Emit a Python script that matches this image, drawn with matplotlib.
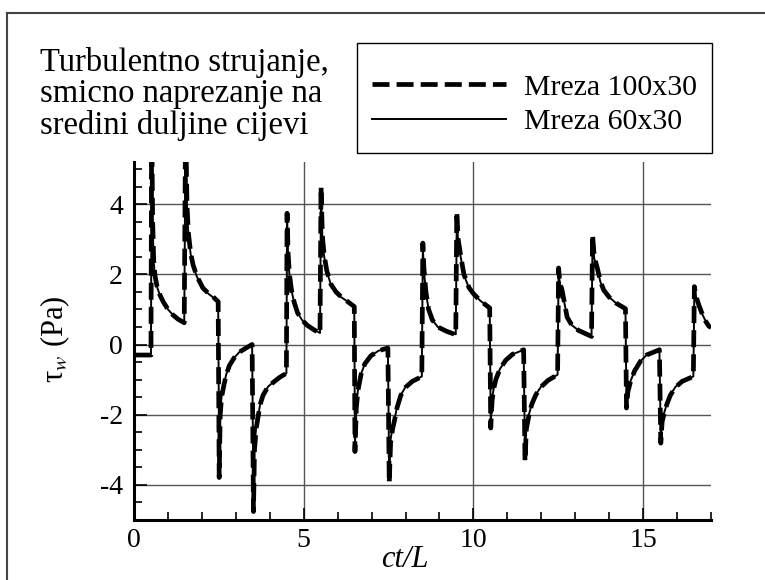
import matplotlib
matplotlib.use('Agg')
import matplotlib.pyplot as plt
import matplotlib.lines
import matplotlib.patches
from matplotlib.ticker import MultipleLocator

plt.rcParams['font.family'] = ['Liberation Serif', 'DejaVu Serif']
plt.rcParams['mathtext.fontset'] = 'stix'
plt.rcParams['axes.unicode_minus'] = False

# ct/L values, shared by both meshes
t_vals = [0.0, 0.5,
          0.52, 0.55, 0.58, 0.62, 0.68, 0.76, 0.86, 1.0, 1.15, 1.3, 1.48,
          1.52, 1.56, 1.6, 1.67, 1.74, 1.85, 2.03, 2.2, 2.35, 2.48,
          2.51, 2.54, 2.58, 2.65, 2.72, 2.81, 2.95, 3.1, 3.3, 3.48,
          3.52, 3.55, 3.6, 3.65, 3.72, 3.8, 3.95, 4.14, 4.3, 4.49,
          4.51, 4.54, 4.58, 4.64, 4.72, 4.82, 4.95, 5.1, 5.3, 5.48,
          5.51, 5.55, 5.6, 5.68, 5.8, 5.95, 6.1, 6.3, 6.49,
          6.51, 6.55, 6.6, 6.69, 6.8, 6.98, 7.2, 7.48,
          7.52, 7.56, 7.62, 7.67, 7.75, 7.86, 8.0, 8.2, 8.48,
          8.51, 8.54, 8.6, 8.68, 8.79, 8.95, 9.2, 9.48,
          9.51, 9.55, 9.63, 9.72, 9.87, 10.0, 10.2, 10.48,
          10.51, 10.55, 10.6, 10.66, 10.78, 10.95, 11.15, 11.48,
          11.52, 11.56, 11.64, 11.72, 11.84, 12.0, 12.2, 12.48,
          12.51, 12.55, 12.6, 12.66, 12.76, 12.9, 13.1, 13.48,
          13.51, 13.56, 13.65, 13.74, 13.84, 14.0, 14.2, 14.48,
          14.51, 14.55, 14.63, 14.75, 14.92, 15.1, 15.48,
          15.52, 15.56, 15.61, 15.7, 15.8, 15.95, 16.15, 16.48,
          16.51, 16.55, 16.64, 16.75, 16.85, 16.93, 17.0]

# wall shear stress, mreza 100x30 (dashed)
tau_100 = [-0.3, -0.3,
           6.5, 3.5, 2.4, 1.95, 1.65, 1.42, 1.22, 1.0, 0.84, 0.72, 0.62,
           6.5, 4.0, 3.2, 2.6, 2.27, 1.95, 1.61, 1.45, 1.34, 1.22,
           -3.79, -2.0, -1.5, -1.15, -0.85, -0.6, -0.38, -0.22, -0.1, 0.0,
           -4.76, -3.0, -2.4, -2.09, -1.7, -1.45, -1.2, -1.05, -0.93, -0.82,
           3.74, 2.6, 2.0, 1.55, 1.2, 0.9, 0.7, 0.55, 0.42, 0.32,
           4.5, 3.1, 2.56, 2.1, 1.72, 1.5, 1.36, 1.22, 1.08,
           -3.05, -1.8, -1.3, -0.85, -0.55, -0.32, -0.18, -0.1,
           -3.95, -2.8, -2.4, -2.19, -1.8, -1.45, -1.22, -1.05, -0.91,
           2.89, 2.2, 1.5, 1.0, 0.7, 0.5, 0.38, 0.28,
           3.79, 3.0, 2.5, 2.0, 1.62, 1.45, 1.25, 1.04,
           -2.38, -1.6, -1.25, -1.0, -0.7, -0.45, -0.28, -0.15,
           -3.33, -2.4, -2.0, -1.7, -1.43, -1.2, -1.02, -0.86,
           2.18, 1.7, 1.6, 1.3, 0.78, 0.55, 0.4, 0.23,
           3.13, 2.5, 2.18, 1.8, 1.55, 1.35, 1.18, 1.02,
           -1.81, -1.35, -1.05, -0.75, -0.48, -0.3, -0.15,
           -2.81, -2.2, -2.0, -1.7, -1.45, -1.22, -1.05, -0.91,
           1.65, 1.4, 1.13, 0.85, 0.65, 0.53, 0.48]

# wall shear stress, mreza 60x30 (solid)
tau_60 = [-0.3, -0.3,
          6.3, 3.4, 2.35, 1.93, 1.64, 1.41, 1.22, 1.0, 0.84, 0.72, 0.63,
          6.3, 3.9, 3.15, 2.57, 2.25, 1.94, 1.6, 1.44, 1.33, 1.22,
          -3.6, -1.95, -1.48, -1.14, -0.84, -0.6, -0.38, -0.22, -0.1, 0.0,
          -4.5, -2.9, -2.35, -2.07, -1.69, -1.44, -1.2, -1.04, -0.93, -0.82,
          3.6, 2.55, 1.97, 1.54, 1.19, 0.9, 0.7, 0.55, 0.42, 0.33,
          4.3, 3.0, 2.52, 2.08, 1.71, 1.5, 1.35, 1.22, 1.08,
          -2.9, -1.75, -1.28, -0.84, -0.55, -0.32, -0.18, -0.1,
          -3.8, -2.7, -2.35, -2.17, -1.78, -1.44, -1.21, -1.05, -0.91,
          2.75, 2.15, 1.48, 1.0, 0.7, 0.5, 0.38, 0.29,
          3.65, 2.9, 2.47, 1.98, 1.61, 1.44, 1.25, 1.04,
          -2.3, -1.57, -1.23, -0.99, -0.7, -0.45, -0.28, -0.15,
          -3.2, -2.35, -1.98, -1.69, -1.42, -1.19, -1.02, -0.86,
          2.1, 1.68, 1.58, 1.29, 0.78, 0.55, 0.4, 0.24,
          3.0, 2.45, 2.15, 1.79, 1.54, 1.35, 1.18, 1.02,
          -1.75, -1.33, -1.04, -0.75, -0.48, -0.3, -0.15,
          -2.7, -2.15, -1.98, -1.69, -1.44, -1.21, -1.05, -0.91,
          1.6, 1.38, 1.12, 0.85, 0.65, 0.53, 0.48]

legend_labels = ['Mreza 100x30', 'Mreza 60x30']
title_text = 'Turbulentno strujanje,\nsmicno naprezanje na\nsredini duljine cijevi'

fig = plt.figure(figsize=(7.65, 5.8), dpi=100)
ax = fig.add_axes([134 / 765, 1 - 520 / 580, 577 / 765, 358 / 580])

# grid first so curves lie over it
ax.grid(True, which='major', color='#555555', linewidth=1.0)
ax.set_axisbelow(True)

l1, = ax.plot(t_vals, tau_100, color='black', linewidth=3.4, linestyle=(0, (3.6, 1.5)))
l2, = ax.plot(t_vals, tau_60, color='black', linewidth=1.4)

ax.set_xlim(0, 17)
ax.set_ylim(-5, 5.2)
ax.xaxis.set_major_locator(MultipleLocator(5))
ax.xaxis.set_minor_locator(MultipleLocator(1))
ax.yaxis.set_major_locator(MultipleLocator(2))
ax.yaxis.set_minor_locator(MultipleLocator(0.5))

for side in ['top', 'right']:
    ax.spines[side].set_visible(False)
for side in ['left', 'bottom']:
    ax.spines[side].set_linewidth(2.2)

ax.tick_params(which='both', direction='in', width=1.2, labelsize=20)
ax.tick_params(which='major', length=9)
ax.tick_params(which='minor', length=6)
ax.tick_params(axis='x', pad=6)
ax.tick_params(axis='y', pad=8)

ax.set_xlabel('ct/L', fontsize=22, style='italic')
ax.xaxis.set_label_coords(0.47, -0.07)
ax.set_ylabel('τ$_w$ (Pa)', fontsize=22)
ax.yaxis.set_label_coords(-0.107, 0.505)

# legend in its own box
box = matplotlib.patches.Rectangle((357 / 765, 1 - 153 / 580), 355 / 765, 110 / 580,
                                   transform=fig.transFigure, fill=False,
                                   edgecolor='black', linewidth=1.0)
fig.add_artist(box)
fig.legend([l1, l2], legend_labels, loc='upper left',
           bbox_to_anchor=(372 / 765, 1 - 74 / 580), frameon=False,
           fontsize=21.5, handlelength=4.5, handletextpad=0.6, labelspacing=0.25,
           borderpad=0, borderaxespad=0)

fig.text(40 / 765, 1 - 47 / 580, title_text, fontsize=23.5, ha='left', va='top', linespacing=1.04)

# outer frame (top and left edges)
fig.add_artist(matplotlib.lines.Line2D([7 / 765, 1.0], [1 - 13 / 580, 1 - 13 / 580],
                                       transform=fig.transFigure, color='#444444', linewidth=1.5))
fig.add_artist(matplotlib.lines.Line2D([7 / 765, 7 / 765], [0.0, 1 - 13 / 580],
                                       transform=fig.transFigure, color='#444444', linewidth=1.5))

fig.savefig('out.png', dpi=100)
